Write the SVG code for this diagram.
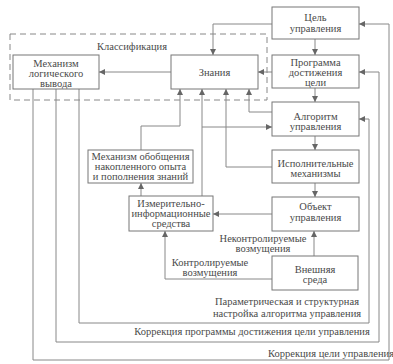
<svg xmlns="http://www.w3.org/2000/svg" width="393" height="364" viewBox="0 0 393 364" font-family="'Liberation Serif', 'DejaVu Serif', serif">
<style>
.box{fill:#fff;stroke:#777;stroke-width:1}
.ln{fill:none;stroke:#888;stroke-width:1}
.ar{marker-end:url(#ah)}
text{font-family:'Liberation Serif','DejaVu Serif',serif;font-size:10.5px;fill:#4a4a4a}
.c{text-anchor:middle}
</style>
<defs>
<marker id="ah" markerUnits="userSpaceOnUse" markerWidth="7" markerHeight="6" refX="6" refY="3" orient="auto">
<path d="M0,0 L6,3 L0,6 Z" fill="#666"/>
</marker>
</defs>
<rect width="393" height="364" fill="#fff"/>
<g id="classification">
<rect x="10" y="34" width="257" height="66" fill="none" stroke="#888" stroke-dasharray="6,4"/>
<text class="c" x="132" y="50">Классификация</text>
</g>
<g id="connectors">
<path class="ln ar" d="M272,24 H213 V55"/>
<path class="ln ar" d="M315,39 V55"/>
<path class="ln ar" d="M272,72 H258"/>
<path class="ln ar" d="M171,72 H99"/>
<path class="ln ar" d="M315,88 V102"/>
<path class="ln ar" d="M315,136 V150"/>
<path class="ln ar" d="M315,183 V197"/>
<path class="ln ar" d="M272,214 H213"/>
<path class="ln ar" d="M314,256 V231"/>
<path class="ln ar" d="M272,279 H165 V231"/>
<path class="ln ar" d="M141,196 V183"/>
<path class="ln ar" d="M141,150 V126 H180 V89"/>
<path class="ln ar" d="M202,196 V89"/>
<path class="ln ar" d="M202,127 H272"/>
<path class="ln ar" d="M272,167 H226 V89"/>
<path class="ln ar" d="M272,112 H249 V89"/>
<path class="ln ar" d="M33,89 V360 H389 V24 H359"/>
<path class="ln ar" d="M56,89 V342 H379 V72 H359"/>
<path class="ln ar" d="M79,89 V323 H369 V119 H359"/>
</g>
<g id="goal">
<rect class="box" x="272" y="7" width="87" height="32"/>
<text class="c" x="315.5" y="20.5">Цель</text>
<text class="c" x="315.5" y="32">управления</text>
</g>
<g id="program">
<rect class="box" x="272" y="55" width="87" height="33"/>
<text class="c" x="315.5" y="65.5">Программа</text>
<text class="c" x="315.5" y="75.5">достижения</text>
<text class="c" x="315.5" y="85.5">цели</text>
</g>
<g id="knowledge">
<rect class="box" x="171" y="55" width="87" height="34"/>
<text class="c" x="214.5" y="75.5">Знания</text>
</g>
<g id="inference">
<rect class="box" x="13" y="55" width="86" height="34"/>
<text class="c" x="56" y="66.5">Механизм</text>
<text class="c" x="56" y="76.5">логического</text>
<text class="c" x="56" y="86.5">вывода</text>
</g>
<g id="algorithm">
<rect class="box" x="272" y="102" width="87" height="34"/>
<text class="c" x="315.5" y="119.5">Алгоритм</text>
<text class="c" x="315.5" y="129.5">управления</text>
</g>
<g id="actuators">
<rect class="box" x="272" y="150" width="87" height="33"/>
<text class="c" x="315.5" y="166.5">Исполнительные</text>
<text class="c" x="315.5" y="176.5">механизмы</text>
</g>
<g id="object">
<rect class="box" x="272" y="197" width="87" height="34"/>
<text class="c" x="315.5" y="209.5">Объект</text>
<text class="c" x="315.5" y="221">управления</text>
</g>
<g id="environment">
<rect class="box" x="272" y="256" width="86" height="34"/>
<text class="c" x="315" y="272.5">Внешняя</text>
<text class="c" x="315" y="282.5">среда</text>
</g>
<g id="generalization">
<rect class="box" x="88" y="150" width="105" height="33"/>
<text class="c" x="140.5" y="159.5">Механизм обобщения</text>
<text class="c" x="140.5" y="169.5">накопленного опыта</text>
<text class="c" x="140.5" y="180">и пополнения знаний</text>
</g>
<g id="measuring">
<rect class="box" x="129" y="196" width="84" height="35"/>
<text class="c" x="171" y="206.5">Измерительно-</text>
<text class="c" x="171" y="216.5">информационные</text>
<text class="c" x="171" y="226.5">средства</text>
</g>
<g id="labels">
<text class="c" x="263" y="241.5">Неконтролируемые</text>
<text class="c" x="263" y="251.5">возмущения</text>
<text class="c" x="210" y="266">Контролируемые</text>
<text class="c" x="210" y="275.5">возмущения</text>
<text class="c" x="287" y="305">Параметрическая и структурная</text>
<text class="c" x="287" y="317">настройка алгоритма управления</text>
<text class="c" x="252" y="335">Коррекция программы достижения цели управления</text>
<text class="c" x="331" y="357">Коррекция цели управления</text>
</g>
</svg>
